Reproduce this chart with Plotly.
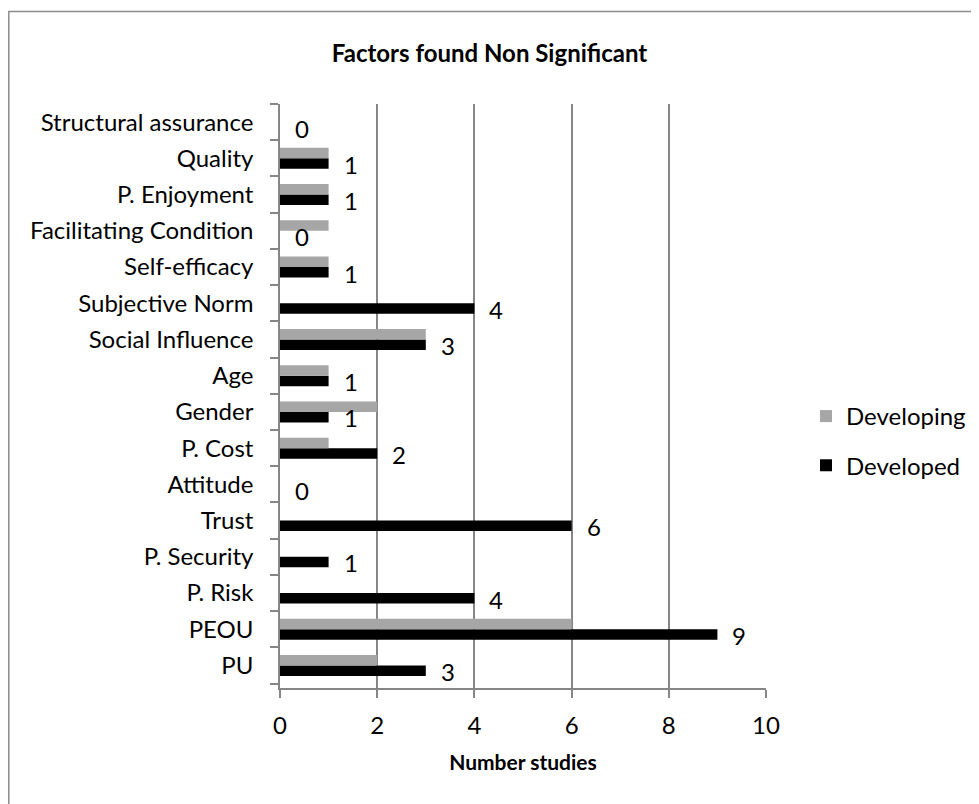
import plotly.graph_objects as go

categories = ["PU", "PEOU", "P. Risk", "P. Security", "Trust", "Attitude", "P. Cost",
              "Gender", "Age", "Social Influence", "Subjective Norm", "Self-efficacy",
              "Facilitating Condition", "P. Enjoyment", "Quality", "Structural assurance"]
developing = [2, 6, 0, 0, 0, 0, 1, 2, 1, 3, 0, 1, 1, 1, 1, 0]
developed = [3, 9, 4, 1, 6, 0, 2, 1, 1, 3, 4, 1, 0, 1, 1, 0]
x_ticks = [0, 2, 4, 6, 8, 10]

FONT = "Lato"
GRID = "#868686"
W, H = 971, 796          # page body has an 8px margin
L, R, T, B = 272, 213, 96, 116
PW, PH = W - L - R, H - T - B

fig = go.Figure()
fig.add_bar(y=categories, x=developed, orientation="h", name="Developed",
            marker=dict(color="#000000", line=dict(width=0)), legendrank=2, legendgroup="dev")
fig.add_bar(y=categories, x=developing, orientation="h", name="Developing",
            marker=dict(color="#a6a6a6", line=dict(width=0)), legendrank=1, legendgroup="ing")

for c, v in zip(categories, developed):
    fig.add_annotation(x=v, y=c, text=str(v), showarrow=False, xanchor="left",
                       xshift=13, yshift=-6, font=dict(family=FONT, size=24, color="#000"))

fig.add_shape(type="rect", xref="paper", yref="paper",
              x0=(0.8 - L) / PW, x1=(W + 10 - L) / PW,
              y0=(H - B - (H + 10)) / PH, y1=(H - B - 3.5) / PH,
              line=dict(color="#8c8c8c", width=1.5), fillcolor="rgba(0,0,0,0)", layer="below")

fig.update_layout(
    width=W, height=H,
    margin=dict(l=L, r=R, t=T, b=B, autoexpand=False),
    paper_bgcolor="white", plot_bgcolor="white",
    font=dict(family=FONT, size=24, color="#000"),
    title=dict(text="<b>Factors found Non Significant</b>", x=0.5 * 979 / W - 8 / W, xref="container",
               xanchor="center", y=1 - 46 / H, yref="container", yanchor="middle",
               font=dict(family=FONT, size=24, color="#000")),
    barmode="group", bargap=0.42, bargroupgap=0,
    legend=dict(x=(798 - L) / PW, xanchor="left", y=0.423, yanchor="middle",
                traceorder="grouped", tracegroupgap=15,
                font=dict(family=FONT, size=24), bgcolor="rgba(0,0,0,0)"),
    xaxis=dict(range=[0, 10], tickvals=x_ticks, showgrid=True, gridcolor=GRID, gridwidth=1.5,
               showline=True, linecolor=GRID, linewidth=1.5, zeroline=False,
               ticks="outside", ticklen=8, tickcolor=GRID, tickwidth=1.5,
               ticklabelstandoff=7,
               title=dict(text="<b>Number studies</b>", font=dict(family=FONT, size=21), standoff=18)),
    yaxis=dict(type="category", showline=True, linecolor=GRID, linewidth=1.5,
               ticks="outside", ticklen=8, tickcolor=GRID, tickwidth=1.5, tickson="boundaries",
               showgrid=False, ticklabelstandoff=20),
)

fig.write_html("out.html")
